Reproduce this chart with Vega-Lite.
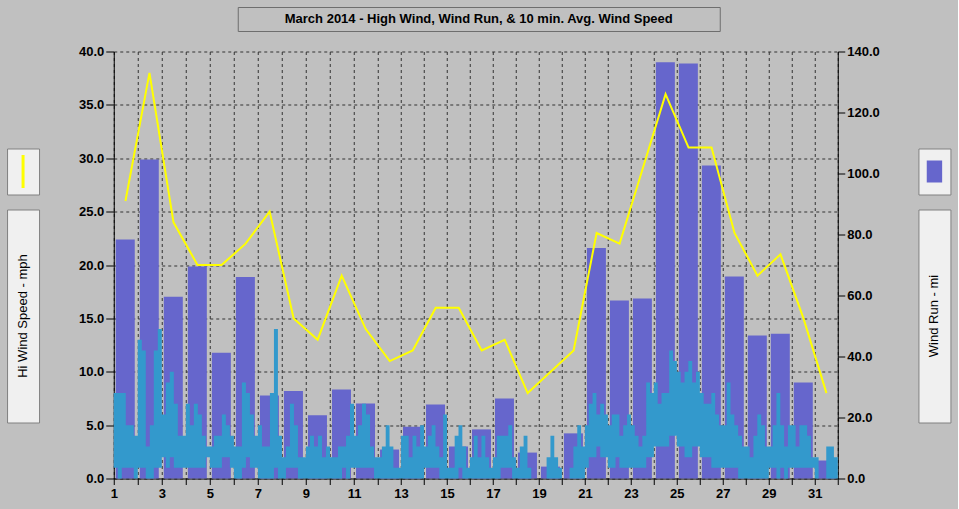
{
  "$schema": "https://vega.github.io/schema/vega-lite/v6.json",
  "autosize": {"type": "pad"},
  "padding": {"left": 6, "top": 6, "right": 7, "bottom": 10},
  "background": "#C0C0C0",
  "config": {
    "view": {"stroke": null},
    "axis": {
      "labelFont": "Liberation Sans",
      "labelFontSize": 13,
      "labelFontWeight": "bold",
      "labelColor": "#000000",
      "domainColor": "#000000",
      "tickColor": "#000000",
      "gridColor": "#333333",
      "gridDash": [3, 3],
      "gridOpacity": 1,
      "gridWidth": 1
    },
    "text": {"font": "Liberation Sans", "fontSize": 13, "color": "#000000"}
  },
  "datasets": {
    "daily": [
      {"day": 1, "run": 78.4, "hiwind": 26},
      {"day": 2, "run": 104.6, "hiwind": 38},
      {"day": 3, "run": 59.6, "hiwind": 24},
      {"day": 4, "run": 69.5, "hiwind": 20},
      {"day": 5, "run": 41.2, "hiwind": 20},
      {"day": 6, "run": 66.1, "hiwind": 22},
      {"day": 7, "run": 27.2, "hiwind": 25},
      {"day": 8, "run": 28.7, "hiwind": 15},
      {"day": 9, "run": 20.7, "hiwind": 13},
      {"day": 10, "run": 29.2, "hiwind": 19},
      {"day": 11, "run": 24.6, "hiwind": 14},
      {"day": 12, "run": 9.5, "hiwind": 11},
      {"day": 13, "run": 17.0, "hiwind": 12},
      {"day": 14, "run": 24.3, "hiwind": 16},
      {"day": 15, "run": 10.5, "hiwind": 16},
      {"day": 16, "run": 16.1, "hiwind": 12},
      {"day": 17, "run": 26.2, "hiwind": 13},
      {"day": 18, "run": 8.5, "hiwind": 8},
      {"day": 19, "run": 3.9, "hiwind": 10},
      {"day": 20, "run": 14.8, "hiwind": 12},
      {"day": 21, "run": 75.6, "hiwind": 23},
      {"day": 22, "run": 58.4, "hiwind": 22},
      {"day": 23, "run": 59.0, "hiwind": 29},
      {"day": 24, "run": 136.5, "hiwind": 36},
      {"day": 25, "run": 136.1, "hiwind": 31},
      {"day": 26, "run": 102.6, "hiwind": 31},
      {"day": 27, "run": 66.2, "hiwind": 23},
      {"day": 28, "run": 46.9, "hiwind": 19},
      {"day": 29, "run": 47.5, "hiwind": 21},
      {"day": 30, "run": 31.5, "hiwind": 15},
      {"day": 31, "run": 5.9, "hiwind": 8}
    ],
    "avg": [
      {"t": 1.000, "hi": 8, "lo": 1}, {"t": 1.167, "hi": 8, "lo": 0}, {"t": 1.333, "hi": 8, "lo": 1}, {"t": 1.500, "hi": 5, "lo": 1}, {"t": 1.667, "hi": 5, "lo": 1}, {"t": 1.833, "hi": 4, "lo": 0},
      {"t": 2.000, "hi": 13, "lo": 1}, {"t": 2.167, "hi": 12, "lo": 1}, {"t": 2.333, "hi": 3, "lo": 0}, {"t": 2.500, "hi": 5, "lo": 0}, {"t": 2.667, "hi": 12, "lo": 1}, {"t": 2.833, "hi": 14, "lo": 1},
      {"t": 3.000, "hi": 6, "lo": 2}, {"t": 3.167, "hi": 9, "lo": 1}, {"t": 3.333, "hi": 10, "lo": 2}, {"t": 3.500, "hi": 7, "lo": 1}, {"t": 3.667, "hi": 4, "lo": 1}, {"t": 3.833, "hi": 4, "lo": 1},
      {"t": 4.000, "hi": 7, "lo": 1}, {"t": 4.167, "hi": 5, "lo": 1}, {"t": 4.333, "hi": 7, "lo": 1}, {"t": 4.500, "hi": 6, "lo": 1}, {"t": 4.667, "hi": 4, "lo": 1}, {"t": 4.833, "hi": 3, "lo": 2},
      {"t": 5.000, "hi": 3, "lo": 1}, {"t": 5.167, "hi": 4, "lo": 1}, {"t": 5.333, "hi": 4, "lo": 1}, {"t": 5.500, "hi": 6, "lo": 2}, {"t": 5.667, "hi": 5, "lo": 2}, {"t": 5.833, "hi": 4, "lo": 1},
      {"t": 6.000, "hi": 3, "lo": 0}, {"t": 6.167, "hi": 3, "lo": 0}, {"t": 6.333, "hi": 9, "lo": 1}, {"t": 6.500, "hi": 8, "lo": 2}, {"t": 6.667, "hi": 6, "lo": 1}, {"t": 6.833, "hi": 4, "lo": 1},
      {"t": 7.000, "hi": 5, "lo": 0}, {"t": 7.167, "hi": 3, "lo": 0}, {"t": 7.333, "hi": 3, "lo": 0}, {"t": 7.500, "hi": 8, "lo": 0}, {"t": 7.667, "hi": 14, "lo": 1}, {"t": 7.833, "hi": 4, "lo": 0},
      {"t": 8.000, "hi": 2, "lo": 0}, {"t": 8.167, "hi": 3, "lo": 1}, {"t": 8.333, "hi": 7, "lo": 1}, {"t": 8.500, "hi": 5, "lo": 1}, {"t": 8.667, "hi": 2, "lo": 0}, {"t": 8.833, "hi": 2, "lo": 0},
      {"t": 9.000, "hi": 3, "lo": 0}, {"t": 9.167, "hi": 4, "lo": 0}, {"t": 9.333, "hi": 3, "lo": 0}, {"t": 9.500, "hi": 4, "lo": 0}, {"t": 9.667, "hi": 2, "lo": 0}, {"t": 9.833, "hi": 3, "lo": 0},
      {"t": 10.000, "hi": 2, "lo": 0}, {"t": 10.167, "hi": 2, "lo": 0}, {"t": 10.333, "hi": 3, "lo": 0}, {"t": 10.500, "hi": 3, "lo": 1}, {"t": 10.667, "hi": 4, "lo": 0}, {"t": 10.833, "hi": 7, "lo": 1},
      {"t": 11.000, "hi": 4, "lo": 1}, {"t": 11.167, "hi": 5, "lo": 1}, {"t": 11.333, "hi": 7, "lo": 1}, {"t": 11.500, "hi": 6, "lo": 1}, {"t": 11.667, "hi": 3, "lo": 1}, {"t": 11.833, "hi": 2, "lo": 0},
      {"t": 12.000, "hi": 2, "lo": 0}, {"t": 12.167, "hi": 3, "lo": 0}, {"t": 12.333, "hi": 5, "lo": 0}, {"t": 12.500, "hi": 3, "lo": 0}, {"t": 12.667, "hi": 1, "lo": 0}, {"t": 12.833, "hi": 1, "lo": 0},
      {"t": 13.000, "hi": 4, "lo": 0}, {"t": 13.167, "hi": 4, "lo": 0}, {"t": 13.333, "hi": 2, "lo": 0}, {"t": 13.500, "hi": 4, "lo": 0}, {"t": 13.667, "hi": 3, "lo": 0}, {"t": 13.833, "hi": 5, "lo": 0},
      {"t": 14.000, "hi": 3, "lo": 1}, {"t": 14.167, "hi": 4, "lo": 1}, {"t": 14.333, "hi": 5, "lo": 1}, {"t": 14.500, "hi": 3, "lo": 1}, {"t": 14.667, "hi": 2, "lo": 0}, {"t": 14.833, "hi": 6, "lo": 0},
      {"t": 15.000, "hi": 1, "lo": 0}, {"t": 15.167, "hi": 1, "lo": 0}, {"t": 15.333, "hi": 4, "lo": 0}, {"t": 15.500, "hi": 5, "lo": 1}, {"t": 15.667, "hi": 3, "lo": 0}, {"t": 15.833, "hi": 1, "lo": 0},
      {"t": 16.000, "hi": 2, "lo": 0}, {"t": 16.167, "hi": 4, "lo": 0}, {"t": 16.333, "hi": 2, "lo": 0}, {"t": 16.500, "hi": 4, "lo": 0}, {"t": 16.667, "hi": 2, "lo": 0}, {"t": 16.833, "hi": 1, "lo": 0},
      {"t": 17.000, "hi": 2, "lo": 0}, {"t": 17.167, "hi": 4, "lo": 0}, {"t": 17.333, "hi": 4, "lo": 1}, {"t": 17.500, "hi": 4, "lo": 1}, {"t": 17.667, "hi": 5, "lo": 1}, {"t": 17.833, "hi": 2, "lo": 0},
      {"t": 18.000, "hi": 1, "lo": 0}, {"t": 18.167, "hi": 3, "lo": 0}, {"t": 18.333, "hi": 4, "lo": 0}, {"t": 18.500, "hi": 1, "lo": 0}, {"t": 18.667, "hi": 0, "lo": 0}, {"t": 18.833, "hi": 0, "lo": 0},
      {"t": 19.000, "hi": 0, "lo": 0}, {"t": 19.167, "hi": 0, "lo": 0}, {"t": 19.333, "hi": 2, "lo": 0}, {"t": 19.500, "hi": 4, "lo": 0}, {"t": 19.667, "hi": 2, "lo": 0}, {"t": 19.833, "hi": 1, "lo": 0},
      {"t": 20.000, "hi": 0, "lo": 0}, {"t": 20.167, "hi": 0, "lo": 0}, {"t": 20.333, "hi": 1, "lo": 0}, {"t": 20.500, "hi": 3, "lo": 0}, {"t": 20.667, "hi": 5, "lo": 0}, {"t": 20.833, "hi": 3, "lo": 0},
      {"t": 21.000, "hi": 5, "lo": 1}, {"t": 21.167, "hi": 7, "lo": 2}, {"t": 21.333, "hi": 8, "lo": 2}, {"t": 21.500, "hi": 6, "lo": 3}, {"t": 21.667, "hi": 7, "lo": 2}, {"t": 21.833, "hi": 6, "lo": 2},
      {"t": 22.000, "hi": 5, "lo": 1}, {"t": 22.167, "hi": 6, "lo": 1}, {"t": 22.333, "hi": 6, "lo": 2}, {"t": 22.500, "hi": 4, "lo": 1}, {"t": 22.667, "hi": 5, "lo": 1}, {"t": 22.833, "hi": 6, "lo": 1},
      {"t": 23.000, "hi": 5, "lo": 1}, {"t": 23.167, "hi": 4, "lo": 1}, {"t": 23.333, "hi": 3, "lo": 1}, {"t": 23.500, "hi": 4, "lo": 1}, {"t": 23.667, "hi": 9, "lo": 2}, {"t": 23.833, "hi": 8, "lo": 2},
      {"t": 24.000, "hi": 9, "lo": 3}, {"t": 24.167, "hi": 7, "lo": 3}, {"t": 24.333, "hi": 8, "lo": 3}, {"t": 24.500, "hi": 8, "lo": 3}, {"t": 24.667, "hi": 12, "lo": 4}, {"t": 24.833, "hi": 11, "lo": 4},
      {"t": 25.000, "hi": 10, "lo": 3}, {"t": 25.167, "hi": 9, "lo": 3}, {"t": 25.333, "hi": 10, "lo": 2}, {"t": 25.500, "hi": 11, "lo": 2}, {"t": 25.667, "hi": 9, "lo": 3}, {"t": 25.833, "hi": 10, "lo": 3},
      {"t": 26.000, "hi": 8, "lo": 2}, {"t": 26.167, "hi": 7, "lo": 2}, {"t": 26.333, "hi": 7, "lo": 2}, {"t": 26.500, "hi": 8, "lo": 1}, {"t": 26.667, "hi": 6, "lo": 1}, {"t": 26.833, "hi": 5, "lo": 1},
      {"t": 27.000, "hi": 5, "lo": 1}, {"t": 27.167, "hi": 9, "lo": 1}, {"t": 27.333, "hi": 6, "lo": 1}, {"t": 27.500, "hi": 5, "lo": 1}, {"t": 27.667, "hi": 4, "lo": 0}, {"t": 27.833, "hi": 3, "lo": 0},
      {"t": 28.000, "hi": 3, "lo": 0}, {"t": 28.167, "hi": 2, "lo": 0}, {"t": 28.333, "hi": 4, "lo": 0}, {"t": 28.500, "hi": 6, "lo": 0}, {"t": 28.667, "hi": 5, "lo": 0}, {"t": 28.833, "hi": 3, "lo": 0},
      {"t": 29.000, "hi": 3, "lo": 1}, {"t": 29.167, "hi": 5, "lo": 1}, {"t": 29.333, "hi": 8, "lo": 0}, {"t": 29.500, "hi": 5, "lo": 1}, {"t": 29.667, "hi": 3, "lo": 0}, {"t": 29.833, "hi": 5, "lo": 1},
      {"t": 30.000, "hi": 5, "lo": 1}, {"t": 30.167, "hi": 3, "lo": 1}, {"t": 30.333, "hi": 5, "lo": 1}, {"t": 30.500, "hi": 5, "lo": 1}, {"t": 30.667, "hi": 4, "lo": 1}, {"t": 30.833, "hi": 2, "lo": 1},
      {"t": 31.000, "hi": 2, "lo": 0}, {"t": 31.167, "hi": 0, "lo": 0}, {"t": 31.333, "hi": 0, "lo": 0}, {"t": 31.500, "hi": 3, "lo": 0}, {"t": 31.667, "hi": 3, "lo": 0}, {"t": 31.833, "hi": 2, "lo": 0},
      {"t": 32.000, "hi": 2, "lo": 0}
    ]
  },
  "vconcat": [
    {
      "width": 482,
      "height": 24,
      "view": {"fill": "#C0C0C0", "stroke": "#6E6E6E", "strokeWidth": 1},
      "data": {"values": [{"label": "March 2014 - High Wind, Wind Run, & 10 min. Avg. Wind Speed"}]},
      "mark": {"type": "text", "fontWeight": "bold", "fontSize": 13, "baseline": "middle", "align": "center"},
      "encoding": {"text": {"field": "label"}}
    },
    {
      "hconcat": [
        {
          "vconcat": [
            {"width": 32, "height": 83, "view": {"fill": "#C0C0C0", "stroke": null}, "data": {"values": []}, "mark": "point"},
            {
              "width": 32, "height": 46,
              "view": {"fill": "#F0F0F0", "stroke": "#808080", "strokeWidth": 1},
              "data": {"values": [{"series": "Hi Wind Speed"}]},
              "mark": {"type": "point", "shape": "M0,-1L0,1", "size": 1089, "filled": false, "stroke": "#FFFF00", "strokeWidth": 3, "opacity": 1}
            },
            {
              "width": 32, "height": 213,
              "view": {"fill": "#F0F0F0", "stroke": "#808080", "strokeWidth": 1},
              "data": {"values": [{"label": "Hi Wind Speed - mph"}]},
              "mark": {"type": "text", "angle": 270, "baseline": "middle", "align": "center"},
              "encoding": {"text": {"field": "label"}}
            }
          ],
          "spacing": 13
        },
        {
          "width": 724,
          "height": 427,
          "encoding": {
            "x": {
              "type": "quantitative",
              "title": null,
              "scale": {"domain": [1, 12, 32], "range": [0, 264.3, 724], "nice": false, "zero": false, "padding": 0},
              "axis": {
                "values": [1,2,3,4,5,6,7,8,9,10,11,12,13,14,15,16,17,18,19,20,21,22,23,24,25,26,27,28,29,30,31,32],
                "labelExpr": "(datum.value % 2 == 1 && datum.value < 32) ? datum.label : ''",
                "grid": true,
                "tickSize": 6,
                "labelPadding": 3,
                "labelFlush": false,
                "labelOverlap": false
              }
            }
          },
          "layer": [
            {
              "data": {"name": "daily"},
              "mark": {"type": "bar", "color": "#6666CC", "width": 19, "xOffset": 11.5},
              "encoding": {
                "x": {"field": "day"},
                "y": {
                  "field": "run", "type": "quantitative",
                  "scale": {"domain": [0, 140], "nice": false},
                  "axis": {
                    "orient": "right",
                    "values": [0, 20, 40, 60, 80, 100, 120, 140],
                    "format": ".1f",
                    "grid": false,
                    "tickSize": 7,
                    "labelPadding": 2,
                    "title": null
                  }
                }
              }
            },
            {
              "encoding": {
                "y": {
                  "type": "quantitative",
                  "scale": {"domain": [0, 40], "nice": false},
                  "axis": {
                    "orient": "left",
                    "values": [0, 5, 10, 15, 20, 25, 30, 35, 40],
                    "format": ".1f",
                    "grid": true,
                    "tickSize": 8,
                    "labelPadding": 2,
                    "title": null
                  }
                }
              },
              "layer": [
                {
                  "data": {"name": "avg"},
                  "mark": {"type": "area", "interpolate": "step-after", "color": "#3399CC", "opacity": 1},
                  "encoding": {
                    "x": {"field": "t"},
                    "y": {"field": "hi"},
                    "y2": {"field": "lo"}
                  }
                },
                {
                  "data": {"name": "daily"},
                  "mark": {"type": "line", "color": "#FFFF00", "strokeWidth": 2, "xOffset": 11.7},
                  "encoding": {
                    "x": {"field": "day"},
                    "y": {"field": "hiwind"}
                  }
                }
              ]
            }
          ],
          "resolve": {"scale": {"y": "independent"}}
        },
        {
          "vconcat": [
            {"width": 32, "height": 83, "view": {"fill": "#C0C0C0", "stroke": null}, "data": {"values": []}, "mark": "point"},
            {
              "width": 32, "height": 46,
              "view": {"fill": "#F0F0F0", "stroke": "#808080", "strokeWidth": 1},
              "data": {"values": [{"series": "Wind Run"}]},
              "mark": {"type": "point", "shape": "M-0.7,-1H0.7V1H-0.7Z", "size": 484, "filled": true, "fill": "#6666CC", "strokeWidth": 0, "opacity": 1}
            },
            {
              "width": 32, "height": 213,
              "view": {"fill": "#F0F0F0", "stroke": "#808080", "strokeWidth": 1},
              "data": {"values": [{"label": "Wind Run - mi"}]},
              "mark": {"type": "text", "angle": 270, "baseline": "middle", "align": "center"},
              "encoding": {"text": {"field": "label"}}
            }
          ],
          "spacing": 13
        }
      ],
      "spacing": 37.7
    }
  ],
  "spacing": 13.5,
  "center": true
}
